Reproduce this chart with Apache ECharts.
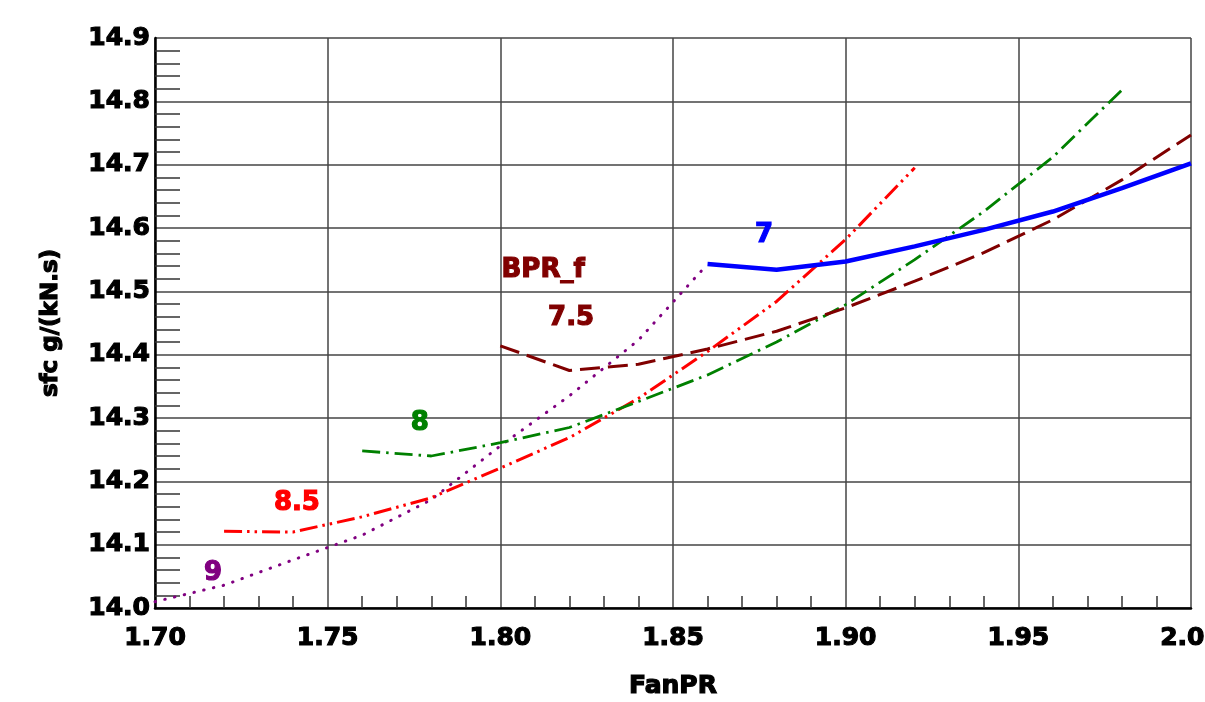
<!DOCTYPE html>
<html>
<head>
<meta charset="utf-8">
<script src="https://cdn.jsdelivr.net/npm/echarts@6/dist/echarts.min.js"></script>
<style>
  html, body { margin: 0; padding: 0; background: #fff; }
  #chart { width: 1205px; height: 702px; }
</style>
</head>
<body>
<div id="chart"></div>
<script>
// sfc vs FanPR, one curve per BPR_f
var bpr7X = [1.86, 1.88, 1.90, 1.92, 1.94, 1.96, 1.98, 2.00];
var bpr7Y = [14.543, 14.534, 14.547, 14.571, 14.597, 14.626, 14.663, 14.702];

var bpr75X = [1.80, 1.82, 1.84, 1.86, 1.88, 1.90, 1.92, 1.94, 1.96, 1.98, 2.00];
var bpr75Y = [14.414, 14.375, 14.385, 14.409, 14.437, 14.474, 14.516, 14.561, 14.613, 14.676, 14.747];

var bpr8X = [1.76, 1.78, 1.80, 1.82, 1.84, 1.86, 1.88, 1.90, 1.92, 1.94, 1.96, 1.98];
var bpr8Y = [14.248, 14.240, 14.261, 14.285, 14.326, 14.368, 14.420, 14.479, 14.550, 14.626, 14.712, 14.818];

var bpr85X = [1.72, 1.74, 1.76, 1.78, 1.80, 1.82, 1.84, 1.86, 1.88, 1.90, 1.92];
var bpr85Y = [14.121, 14.120, 14.144, 14.174, 14.221, 14.269, 14.331, 14.405, 14.484, 14.582, 14.695];

var bpr9X = [1.70, 1.72, 1.74, 1.76, 1.78, 1.80, 1.82, 1.84, 1.86];
var bpr9Y = [14.010, 14.036, 14.076, 14.115, 14.171, 14.256, 14.335, 14.423, 14.543];

// curve labels [text, FanPR, sfc]
var labels7 = [['7', 1.8764, 14.588]];
var labels75 = [['BPR_f', 1.8124, 14.534], ['7.5', 1.8205, 14.457]];
var labels8 = [['8', 1.7767, 14.292]];
var labels85 = [['8.5', 1.7411, 14.166]];
var labels9 = [['9', 1.7168, 14.055]];

var FONT = 'DejaVu Sans';

function pairs(xs, ys) {
    return xs.map(function (x, i) { return [x, ys[i]]; });
}

// heavy text: bold + thin stroke in same colour
function heavy(size, color) {
    return {
        fontFamily: FONT, fontWeight: 'bold', fontSize: size, color: color,
        textBorderColor: color, textBorderWidth: 1.2
    };
}

function marks(list, color) {
    var lbl = heavy(26, color);
    lbl.show = true;
    lbl.position = 'inside';
    lbl.formatter = function (p) { return p.name; };
    return {
        symbol: 'circle',
        symbolSize: 0,
        silent: true,
        label: lbl,
        data: list.map(function (l) { return { name: l[0], coord: [l[1], l[2]] }; })
    };
}

function line(name, xs, ys, color, width, dash, cap, lbls) {
    return {
        name: name,
        type: 'line',
        data: pairs(xs, ys),
        showSymbol: false,
        animation: false,
        lineStyle: { color: color, width: width, type: dash, cap: cap },
        markPoint: marks(lbls, color)
    };
}

var xLabel = heavy(25, '#000');
xLabel.margin = 18;
xLabel.formatter = function (v) { return v.toFixed(2); };
var yLabel = heavy(25, '#000');
yLabel.margin = 5;
yLabel.formatter = function (v) { return v.toFixed(1); };

var myChart = echarts.init(document.getElementById('chart'));
myChart.setOption({
    backgroundColor: '#fff',
    animation: false,
    grid: { left: 155, right: 14, top: 38, height: 570, outerBoundsMode: 'none', containLabel: false },
    xAxis: {
        type: 'value',
        min: 1.70, max: 2.00, interval: 0.05,
        name: 'FanPR',
        nameLocation: 'middle',
        nameGap: 66,
        nameTextStyle: heavy(25, '#000'),
        axisLine: { show: true, onZero: false, lineStyle: { color: '#000', width: 2.5 } },
        axisTick: { show: false },
        minorTick: { show: true, splitNumber: 5, length: -12, lineStyle: { color: '#333', width: 1.5 } },
        splitLine: { show: true, lineStyle: { color: '#444', width: 1.5 } },
        axisLabel: xLabel
    },
    yAxis: {
        type: 'value',
        min: 14.0, max: 14.9, interval: 0.1,
        name: 'sfc g/(kN.s)',
        nameLocation: 'middle',
        nameRotate: 90,
        nameGap: 92,
        nameTextStyle: heavy(23, '#000'),
        axisLine: { show: true, onZero: false, lineStyle: { color: '#000', width: 2.5 } },
        axisTick: { show: false },
        minorTick: { show: true, splitNumber: 5, length: -25, lineStyle: { color: '#333', width: 1.5 } },
        splitLine: { show: true, lineStyle: { color: '#444', width: 1.5 } },
        axisLabel: yLabel
    },
    series: [
        line('9', bpr9X, bpr9Y, '#800080', 3, [0.5, 9.5], 'round', labels9),
        line('8.5', bpr85X, bpr85Y, '#ff0000', 3, [18, 5, 2.5, 5, 2.5, 5], 'butt', labels85),
        line('8', bpr8X, bpr8Y, '#008000', 2.8, [18, 6, 2.5, 6], 'butt', labels8),
        line('7.5', bpr75X, bpr75Y, '#800000', 3, [20, 8], 'butt', labels75),
        line('7', bpr7X, bpr7Y, '#0000ff', 4.5, 'solid', 'butt', labels7)
    ]
});

window.addEventListener('resize', function () {
    myChart.resize();
});
</script>
</body>
</html>
